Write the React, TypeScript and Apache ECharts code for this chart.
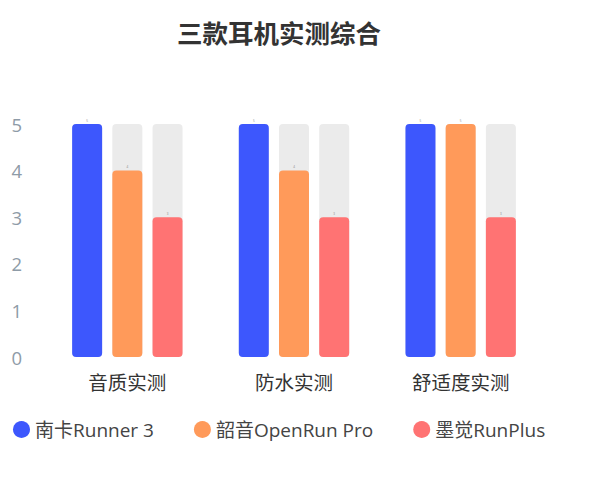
import React, { useEffect, useRef } from "react";
import * as echarts from "echarts";

const categories = ["音质实测", "防水实测", "舒适度实测"];
const seriesNames = ["南卡Runner 3", "韶音OpenRun Pro", "墨觉RunPlus"];
const nankaValues = [5, 5, 5];
const shokzValues = [4, 4, 5];
const mojueValues = [3, 3, 3];
const colors = ["#3d57fd", "#ff9a5a", "#ff7373"];
const yTicks = [0, 1, 2, 3, 4, 5];

export default function App() {
  const ref = useRef<HTMLDivElement>(null);
  useEffect(() => {
    if (!ref.current) return;
    const chart = echarts.init(ref.current, null, { renderer: "svg" });
    const font = "'Open Sans', 'Noto Sans CJK SC', sans-serif";
    const allValues = [nankaValues, shokzValues, mojueValues];
    chart.setOption({
      animation: false,
      textStyle: { fontFamily: font },
      title: {
        text: "三款耳机实测综合",
        left: 164,
        top: 6,
        textStyle: { fontSize: 25.5, fontWeight: "bold", color: "#333", fontFamily: "'Noto Sans CJK SC', sans-serif" },
      },
      legend: {
        left: 0,
        top: 407,
        icon: "circle",
        itemWidth: 17,
        itemHeight: 17,
        itemGap: 40,
        textStyle: { fontSize: 19, color: "#444", fontFamily: font },
        data: seriesNames,
      },
      grid: { left: 36, right: 52, top: 116, bottom: 116, containLabel: false },
      xAxis: {
        type: "category",
        data: categories,
        axisLine: { show: false },
        axisTick: { show: false },
        axisLabel: { fontSize: 19.5, color: "#333", margin: 16, fontFamily: font },
      },
      yAxis: {
        type: "value",
        min: yTicks[0],
        max: yTicks[yTicks.length - 1],
        interval: 1,
        splitLine: { show: false },
        axisLine: { show: false },
        axisTick: { show: false },
        axisLabel: { fontSize: 18.5, color: "#8e9ba7", margin: 22, fontFamily: font },
      },
      series: seriesNames.map((name, i) => ({
        name,
        type: "bar",
        data: allValues[i],
        barWidth: 30,
        barGap: "34%",
        itemStyle: { color: colors[i], borderRadius: 4 },
        showBackground: true,
        backgroundStyle: { color: "#ebebeb", borderRadius: 4 },
        label: { show: true, position: "top", fontSize: 3, color: "#888", distance: 2 },
      })),
    });
    return () => chart.dispose();
  }, []);
  return <div ref={ref} style={{ width: 588, height: 465 }} />;
}
